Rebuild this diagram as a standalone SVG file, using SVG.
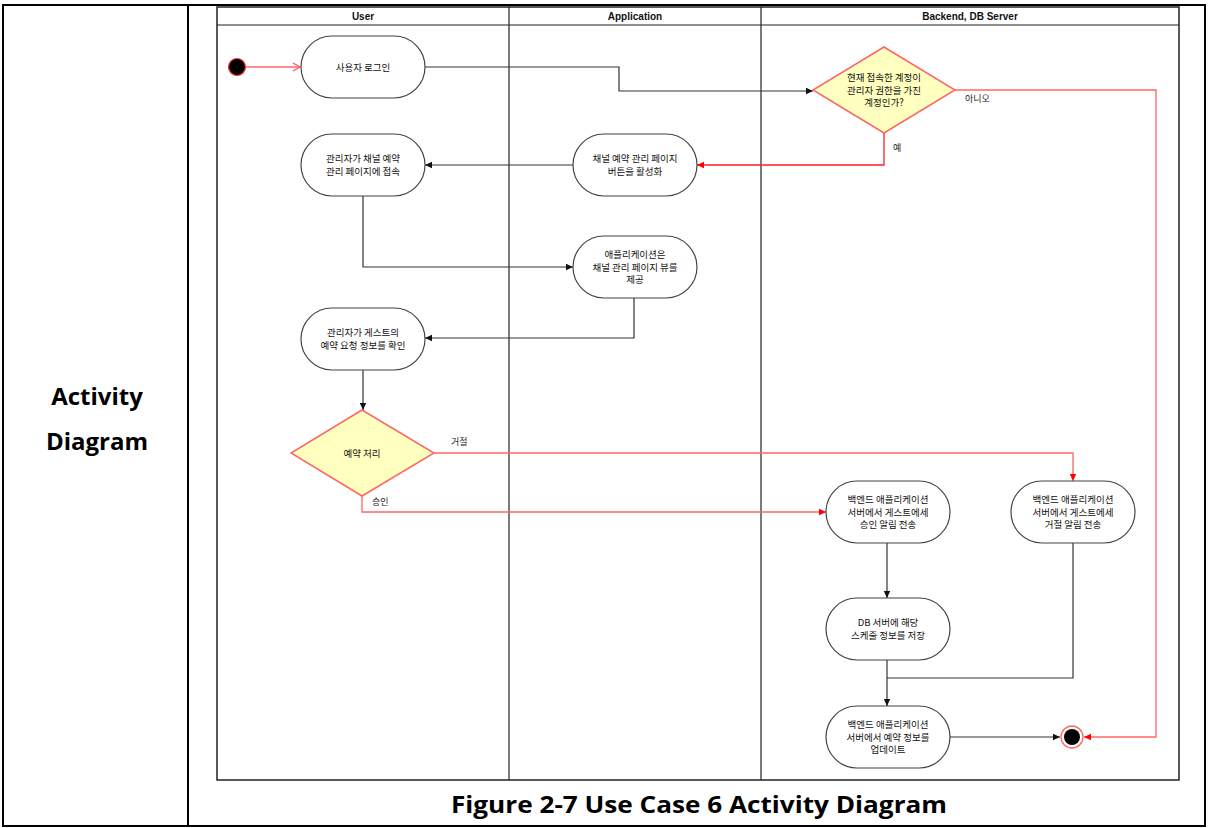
<svg xmlns="http://www.w3.org/2000/svg" width="1208" height="828" viewBox="0 0 1208 828">
<defs>
<style>
.tbl{fill:none;stroke:#000;stroke-width:2}
.frame{fill:none;stroke:#222;stroke-width:1.5}
.lane{stroke:#222;stroke-width:1.2}
.hdr{font-family:"Liberation Sans","Noto Sans CJK KR",sans-serif;font-size:10px;font-weight:bold;fill:#111;text-anchor:middle}
.act{fill:#fff;stroke:#444;stroke-width:1.2}
.dec{fill:#ffffc0;stroke:#ff6666;stroke-width:1.5}
.t{font-family:"Noto Sans CJK KR","Noto Sans",sans-serif;font-size:9.5px;fill:#111;text-anchor:middle}
.lbl{font-family:"Noto Sans CJK KR","Noto Sans",sans-serif;font-size:9px;fill:#222}
.big{font-family:"Open Sans","Noto Sans CJK KR",sans-serif;font-weight:bold;fill:#000;text-anchor:middle}
.c{fill:none;stroke:#333;stroke-width:1.2}
.r{fill:none;stroke:#ff6666;stroke-width:1.3}
.r2{fill:none;stroke:#ff2020;stroke-width:1.3}
</style>
<marker id="ab" markerWidth="8" markerHeight="8" refX="7" refY="4" orient="auto" markerUnits="userSpaceOnUse">
<path d="M0,0.8 L7,4 L0,7.2 Z" fill="#111"/>
</marker>
<marker id="ar" markerWidth="8" markerHeight="8" refX="7" refY="4" orient="auto" markerUnits="userSpaceOnUse">
<path d="M0,0.8 L7,4 L0,7.2 Z" fill="#ff0000"/>
</marker>
<marker id="ao" markerWidth="10" markerHeight="10" refX="8" refY="5" orient="auto" markerUnits="userSpaceOnUse">
<path d="M1,1 L8,5 L1,9" fill="none" stroke="#ff5555" stroke-width="1.3"/>
</marker>
</defs>

<g id="table">
<rect class="tbl" x="3" y="5" width="1202" height="821"/>
<line class="tbl" x1="188" y1="5" x2="188" y2="826"/>
<text class="big" x="97" y="405" font-size="24">Activity</text>
<text class="big" x="97" y="450" font-size="24">Diagram</text>
<text class="big" x="699" y="813" font-size="24" textLength="496" lengthAdjust="spacingAndGlyphs">Figure 2-7 Use Case 6 Activity Diagram</text>
</g>

<g id="swimlanes">
<rect class="frame" x="217" y="7" width="962" height="773"/>
<line class="lane" x1="217" y1="25" x2="1179" y2="25"/>
<line class="lane" x1="509" y1="7" x2="509" y2="780"/>
<line class="lane" x1="761" y1="7" x2="761" y2="780"/>
<text class="hdr" x="363" y="20">User</text>
<text class="hdr" x="635" y="20">Application</text>
<text class="hdr" x="970" y="20">Backend, DB Server</text>
</g>

<g id="connectors">
<line class="r" x1="246" y1="67" x2="300" y2="67" marker-end="url(#ao)"/>
<polyline class="c" points="425,67 619,67 619,91 813,91" marker-end="url(#ab)"/>
<polyline class="r2" points="884,133 884,165 697,165" marker-end="url(#ar)"/>
<polyline class="r" points="955,90 1156,90 1156,737 1084,737" marker-end="url(#ar)"/>
<line class="c" x1="573" y1="165" x2="425" y2="165" marker-end="url(#ab)"/>
<polyline class="c" points="363,196 363,267 573,267" marker-end="url(#ab)"/>
<polyline class="c" points="634,298 634,338 425,338" marker-end="url(#ab)"/>
<line class="c" x1="363" y1="370" x2="363" y2="410" marker-end="url(#ab)"/>
<polyline class="r" points="434,453 1073,453 1073,481" marker-end="url(#ar)"/>
<polyline class="r" points="362,496 362,512 826,512" marker-end="url(#ar)"/>
<line class="c" x1="887" y1="543" x2="887" y2="598" marker-end="url(#ab)"/>
<line class="c" x1="887" y1="660" x2="887" y2="706" marker-end="url(#ab)"/>
<polyline class="c" points="1073,543 1073,678 887,678"/>
<line class="c" x1="950" y1="737" x2="1060" y2="737" marker-end="url(#ab)"/>
<text class="lbl" x="965" y="102">아니오</text>
<text class="lbl" x="893" y="151">예</text>
<text class="lbl" x="451" y="445">거절</text>
<text class="lbl" x="372" y="505">승인</text>
</g>

<g id="start">
<circle cx="237" cy="67" r="8.5" fill="#000" stroke="#ff3333" stroke-width="1.2"/>
</g>

<g id="n-login">
<rect class="act" x="301" y="36" width="124" height="62" rx="31"/>
<text class="t" x="363" y="70.5">사용자 로그인</text>
</g>

<g id="d-admin">
<polygon class="dec" points="884,47 955,90 884,133 813,90"/>
<text class="t" x="884" y="81">현재 접속한 계정이</text>
<text class="t" x="884" y="93.5">관리자 권한을 가진</text>
<text class="t" x="884" y="106">계정인가?</text>
</g>

<g id="n-activate">
<rect class="act" x="573" y="134" width="124" height="62" rx="31"/>
<text class="t" x="635" y="162">채널 예약 관리 페이지</text>
<text class="t" x="635" y="175">버튼을 활성화</text>
</g>

<g id="n-access">
<rect class="act" x="301" y="134" width="124" height="62" rx="31"/>
<text class="t" x="363" y="162">관리자가 채널 예약</text>
<text class="t" x="363" y="175">관리 페이지에 접속</text>
</g>

<g id="n-view">
<rect class="act" x="573" y="236" width="124" height="62" rx="31"/>
<text class="t" x="635" y="258">애플리케이션은</text>
<text class="t" x="635" y="270.5">채널 관리 페이지 뷰를</text>
<text class="t" x="635" y="283">제공</text>
</g>

<g id="n-check">
<rect class="act" x="301" y="308" width="124" height="62" rx="31"/>
<text class="t" x="363" y="336">관리자가 게스트의</text>
<text class="t" x="363" y="349">예약 요청 정보를 확인</text>
</g>

<g id="d-process">
<polygon class="dec" points="362,410 434,453 362,496 291,453"/>
<text class="t" x="362" y="456.5">예약  처리</text>
</g>

<g id="n-approve">
<rect class="act" x="826" y="481" width="124" height="62" rx="31"/>
<text class="t" x="888" y="503">백엔드 애플리케이션</text>
<text class="t" x="888" y="515.5">서버에서 게스트에세</text>
<text class="t" x="888" y="528">승인 알림 전송</text>
</g>

<g id="n-reject">
<rect class="act" x="1011" y="481" width="124" height="62" rx="31"/>
<text class="t" x="1073" y="503">백엔드 애플리케이션</text>
<text class="t" x="1073" y="515.5">서버에서 게스트에세</text>
<text class="t" x="1073" y="528">거절 알림 전송</text>
</g>

<g id="n-save">
<rect class="act" x="826" y="598" width="124" height="62" rx="31"/>
<text class="t" x="888" y="626">DB 서버에 해당</text>
<text class="t" x="888" y="639">스케줄 정보를 저장</text>
</g>

<g id="n-update">
<rect class="act" x="826" y="706" width="124" height="62" rx="31"/>
<text class="t" x="888" y="728">백엔드 애플리케이션</text>
<text class="t" x="888" y="740.5">서버에서 예약 정보를</text>
<text class="t" x="888" y="753">업데이트</text>
</g>

<g id="end">
<circle cx="1072" cy="737" r="11" fill="#fff" stroke="#ff6666" stroke-width="1.3"/>
<circle cx="1072" cy="737" r="8" fill="#000"/>
</g>
</svg>
